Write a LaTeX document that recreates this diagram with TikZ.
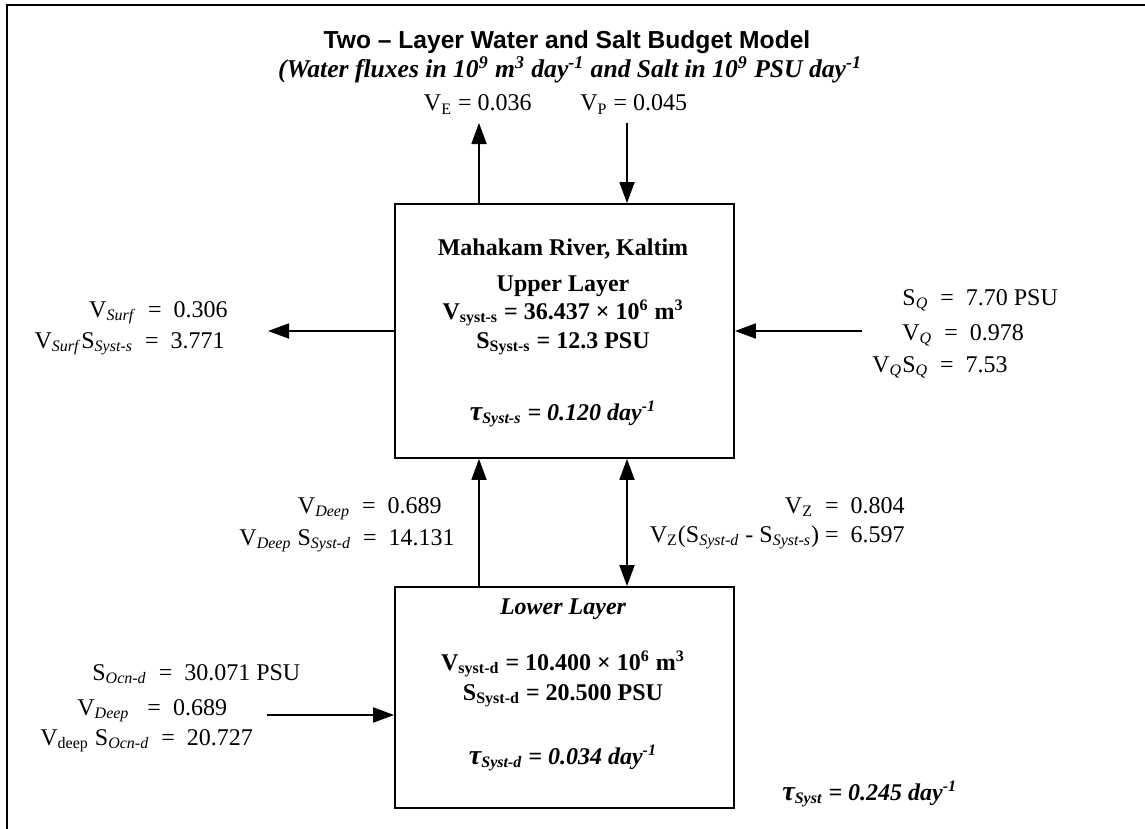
\documentclass[tikz,border=0pt]{standalone}
\usepackage{fontspec}
\setmainfont{Liberation Serif}
\setsansfont{Liberation Sans}
\usetikzlibrary{arrows.meta}
\tikzset{
  px/.style={x=0.5pt,y=-0.5pt},
  frameline/.style={line width=1.4pt},
  boxstyle/.style={draw,line width=0.9pt,inner sep=0pt},
  arr/.style={line width=0.9pt,-{Triangle[length=10.5pt,width=7.5pt]}},
  arrtwo/.style={line width=0.9pt,{Triangle[length=10.5pt,width=7.5pt]}-{Triangle[length=10.5pt,width=7.5pt]}},
  lab/.style={inner sep=0pt,font=\fontsize{12}{14}\selectfont},
  boxtxt/.style={inner sep=0pt,font=\fontsize{12}{14}\selectfont\bfseries},
  boxit/.style={inner sep=0pt,font=\fontsize{12}{14}\selectfont\bfseries\itshape},
}
\newcommand{\btau}{{\fontsize{14}{14}\selectfont\bfseries\itshape τ}}
\begin{document}
\begin{tikzpicture}[px]
\useasboundingbox (0,0) rectangle (1145,829);
% frame
\draw[frameline] (7,829) -- (7,5) -- (1145,5);
% title
\node[inner sep=0pt,font=\fontsize{12.3}{14}\selectfont\sffamily\bfseries] (title) at (567,42) {Two -- Layer Water and Salt Budget Model};
\node[inner sep=0pt,font=\fontsize{12.8}{14}\selectfont\bfseries\itshape] (subtitle) at (570,70) {(Water fluxes in 10\textsuperscript{9} m\textsuperscript{3} day\textsuperscript{-1} and Salt in 10\textsuperscript{9} PSU day\textsuperscript{-1}};
% boxes
\node[boxstyle,minimum width=169.5pt,minimum height=127pt] (upper) at (564.5,331) {};
\node[boxstyle,minimum width=169.5pt,minimum height=110.5pt] (lower) at (564.5,697.5) {};
% upper box text
\node[boxtxt,anchor=base] (t1) at (563,255) {Mahakam River, Kaltim};
\node[boxtxt,anchor=base] (t2) at (563,291) {Upper Layer};
\node[boxtxt,anchor=base] (t3) at (563,319) {V\textsubscript{syst-s} = 36.437 × 10\textsuperscript{6} m\textsuperscript{3}};
\node[boxtxt,anchor=base] (t4) at (563,348) {S\textsubscript{Syst-s} = 12.3 PSU};
\node[boxit,anchor=base] (t5) at (563,420) {\btau\textsubscript{Syst-s} = 0.120 day\textsuperscript{-1}};
% lower box text
\node[boxit,anchor=base] (l1) at (563,614) {Lower Layer};
\node[boxtxt,anchor=base] (l2) at (563,670) {V\textsubscript{syst-d} = 10.400 × 10\textsuperscript{6} m\textsuperscript{3}};
\node[boxtxt,anchor=base] (l3) at (563,700) {S\textsubscript{Syst-d} = 20.500 PSU};
\node[boxit,anchor=base] (l4) at (563,764) {\btau\textsubscript{Syst-d} = 0.034 day\textsuperscript{-1}};
\node[boxit,anchor=base west] (tsys) at (782,800) {\btau\textsubscript{Syst} = 0.245 day\textsuperscript{-1}};
% arrow end coordinates
\coordinate (veTip) at (479,123);
\coordinate (vpTail) at (627,123);
\coordinate (surfTip) at (268,331);
\coordinate (qTail) at (862,331);
\coordinate (deepX) at (479,0);
\coordinate (vzX) at (627,0);
\coordinate (ocnTail) at (267,715);
% arrows
\draw[arr] (upper.north -| veTip) -- (veTip);
\draw[arr] (vpTail) -- (vpTail |- upper.north);
\draw[arr] (upper.west) -- (surfTip);
\draw[arr] (qTail) -- (upper.east);
\draw[arr] (lower.north -| deepX) -- (upper.south -| deepX);
\draw[arrtwo] (upper.south -| vzX) -- (lower.north -| vzX);
\draw[arr] (ocnTail) -- (ocnTail -| lower.west);
% labels
\node[lab,anchor=base east] (ve) at (532,111) {V\textsubscript{E} = 0.036};
\node[lab,anchor=base west] (vp) at (580,111) {V\textsubscript{P} = 0.045};
\node[lab,anchor=base east] (s1) at (228,317) {V\textsubscript{\textit{Surf}} \ = \ 0.306};
\node[lab,anchor=base east] (s2) at (225,348) {V\textsubscript{\textit{Surf}}S\textsubscript{\textit{Syst-s}} \ = \ 3.771};
\node[lab,anchor=base west] (q1) at (902,305) {S\textsubscript{\textit{Q}} \ = \ 7.70 PSU};
\node[lab,anchor=base west] (q2) at (902,340) {V\textsubscript{\textit{Q}} \ = \ 0.978};
\node[lab,anchor=base west] (q3) at (872,372) {V\textsubscript{\textit{Q}}S\textsubscript{\textit{Q}} \ = \ 7.53};
\node[lab,anchor=base east] (d1) at (442,513) {V\textsubscript{\textit{Deep}} \ = \ 0.689};
\node[lab,anchor=base east] (d2) at (455,545) {V\textsubscript{\textit{Deep}} S\textsubscript{\textit{Syst-d}} \ = \ 14.131};
\node[lab,anchor=base east] (z1) at (905,513) {V\textsubscript{Z} \ = \ 0.804};
\node[lab,anchor=base east] (z2) at (905,542) {V\textsubscript{Z}(S\textsubscript{\textit{Syst-d}} - S\textsubscript{\textit{Syst-s}}) = \ 6.597};
\node[lab,anchor=base west] (o1) at (92,680) {S\textsubscript{\textit{Ocn-d}} \ = \ 30.071 PSU};
\node[lab,anchor=base west] (o2) at (77,715) {V\textsubscript{\textit{Deep}} \ \ = \ 0.689};
\node[lab,anchor=base west] (o3) at (40,745) {V\textsubscript{deep} S\textsubscript{\textit{Ocn-d}} \ = \ 20.727};
\end{tikzpicture}
\end{document}
